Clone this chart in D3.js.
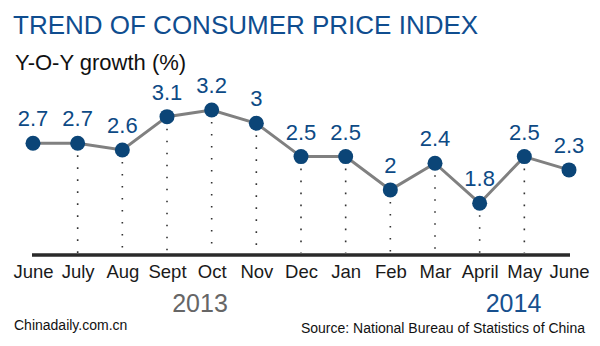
<!DOCTYPE html>
<html><head><meta charset="utf-8">
<script src="https://cdn.jsdelivr.net/npm/d3@7"></script>
<style>html,body{margin:0;padding:0;background:#fff;}svg{display:block;font-family:"Liberation Sans",Arial,sans-serif;}</style>
</head><body><svg id="c" width="600" height="346"></svg>
<script>
const months = ["June","July","Aug","Sept","Oct","Nov","Dec","Jan","Feb","Mar","April","May","June"];
const values = [2.7,2.7,2.6,3.1,3.2,3.0,2.5,2.5,2.0,2.4,1.8,2.5,2.3];
const years = [{label:"2013", idx:4}, {label:"2014", idx:11}];

const svg = d3.select("#c");
const idx = months.map((m,i)=>i);
const x = d3.scalePoint().domain(idx).range([33,569]);
const y = d3.scaleLinear().domain([0,3.2]).range([323,110]);
const axisY = 255;

svg.append("text").attr("x",13).attr("y",34).attr("font-size",26).attr("fill","#0f4d8f")
  .text("TREND OF CONSUMER PRICE INDEX");
svg.append("text").attr("x",15).attr("y",70).attr("font-size",22).attr("fill","#111")
  .text("Y-O-Y growth (%)");

// dotted drop lines
svg.append("g").selectAll("line").data(idx.slice(1,-1)).join("line")
  .attr("x1",i=>x(i)).attr("x2",i=>x(i))
  .attr("y1",i=>y(values[i])+12).attr("y2",axisY-2)
  .attr("stroke","#333").attr("stroke-width",1.6)
  .attr("stroke-dasharray","1.6,10.4");

// axis
const ax = svg.append("g").attr("transform",`translate(0,${axisY})`)
  .call(d3.axisBottom(x).tickSize(0).tickFormat(i=>months[i]));
ax.select(".domain").attr("stroke","#2a2a2a").attr("stroke-width",3.5).attr("d","M32,0H570");
ax.selectAll("text").attr("font-size",18.5).attr("fill","#1a1a1a").attr("dy",0).attr("y",23)
  .attr("font-family","Liberation Sans, Arial, sans-serif");

// line
svg.append("path").datum(idx)
  .attr("fill","none").attr("stroke","#808080").attr("stroke-width",3)
  .attr("d",d3.line().x(i=>x(i)).y(i=>y(values[i])));

svg.append("g").selectAll("circle").data(idx).join("circle")
  .attr("cx",i=>x(i)).attr("cy",i=>y(values[i])).attr("r",7.5)
  .attr("fill","#0b4577");

svg.append("g").selectAll("text").data(idx).join("text")
  .attr("x",i=>x(i)).attr("y",i=>y(values[i])-17)
  .attr("text-anchor","middle").attr("font-size",22).attr("fill","#0d4a85")
  .text(i=>d3.format("")(values[i]));

svg.append("text").attr("x",200).attr("y",312).attr("text-anchor","middle")
  .attr("font-size",25).attr("fill","#666").text(years[0].label);
svg.append("text").attr("x",513.5).attr("y",312).attr("text-anchor","middle")
  .attr("font-size",25).attr("fill","#17508e").text(years[1].label);

svg.append("text").attr("x",14).attr("y",330).attr("font-size",14).attr("fill","#111")
  .text("Chinadaily.com.cn");
svg.append("text").attr("x",585).attr("y",333).attr("text-anchor","end").attr("font-size",14).attr("fill","#111")
  .text("Source: National Bureau of Statistics of China");
</script></body></html>
